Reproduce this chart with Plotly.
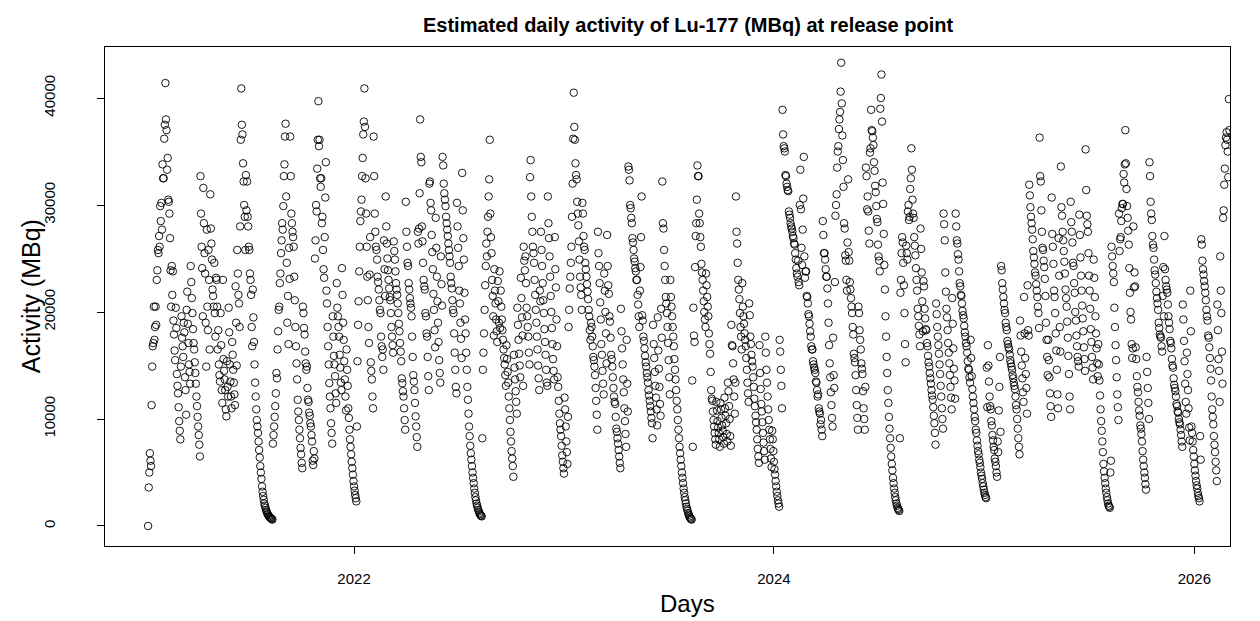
import pandas as pd
import plotly.graph_objects as go

start_date = "2021-01-08"

activity_2021 = [
    0, 3600, 5000, 6800, 6100, 5600, 11300,
    14900, 16800, 17100, 20500, 17400, 18600, 20500, 18800, 23000, 23900, 25800, 25500, 27100, 26100, 29900, 28500, 30200, 27700, 33800, 32500, 32500, 36200, 37500, 41400, 38000, 37000, 33300, 34400, 30500, 30300, 29200, 26900, 23900, 20500, 24300,
    21600, 23800, 19200, 17900, 16400, 15500, 20400, 18500, 14200, 13100, 12400, 11100, 9800, 8900, 8100, 14900, 19600, 17600, 16800, 15800, 19000, 18100, 13900, 12700, 10400, 20200, 21900, 18900, 17100, 15100, 14400, 13300, 24300, 22800, 21300, 19900, 18400, 17100, 16500, 15300, 14300, 13300, 12100, 11200, 10200, 9300, 8500, 7600, 6500,
    32700, 29200, 26100, 24100, 19600, 31600, 28300, 25500, 23600, 19000, 14900, 27700, 20500, 18300, 25800, 23000, 16500, 31000, 27800, 26400, 24900, 22100, 21500, 20500, 24600, 19900, 17700,
    23200, 23000, 20500, 16500, 18300, 15100, 14100, 13500, 19900, 16900, 12700, 11500, 23000, 15600, 14500, 13700, 12700, 10900, 10250, 15400, 13000, 12100, 20400, 18100, 15100, 13500, 12100, 11000, 17200, 16000, 14600, 13400, 12300, 11300, 22400, 19000, 15000,
    25800, 23600, 21600, 20800, 18600, 28000, 36100, 40900, 37500, 36600, 33900, 32200, 30000, 28900, 25800, 32800, 29500, 32200, 28900, 28000, 26100, 25800, 23600, 23000, 21600, 18600, 16800, 22100, 19500, 17200, 15100,
    13400, 12100, 10900, 9900, 9300, 8700, 7900, 7100, 6400, 5600, 5000, 4400, 3700, 3200, 2800, 2450, 2100, 1900, 1700, 1500, 1350, 1200, 1100, 1000, 900, 850, 800, 750, 700, 650, 600,
    7700, 8500, 9300, 10200, 11200, 12400, 14300, 13800, 16500, 18200, 20200, 20500, 22700, 23600, 25500, 26700, 28300, 27700, 29900, 32700, 33800, 36400, 37600, 30800, 24600, 19000, 21500, 17000, 26000, 23100,
    36400, 32700, 29200, 28300, 27500, 27000, 26100, 23300, 21100, 18600, 16800, 15200,
    13700, 11800, 10700, 9900, 9000, 8200, 7300, 6700, 5900, 5400, 20500, 19900, 18500, 17900, 16300, 15200, 14600, 14900, 12900, 11800, 11600, 10600, 10300, 9600, 9300, 8500, 7900, 6100, 5700, 7000, 6300,
    25000, 26700, 30000, 29400, 33400, 36100, 39700, 35500, 36100, 32500, 31700, 32500, 28300, 28900, 25800, 24000, 23200, 27000, 30700, 34000, 22000,
    20800, 18600, 16800, 15100, 13350, 12100, 11000, 9600, 8700, 7700, 19600, 17700, 15900, 15100, 14000, 12400, 11500, 22700, 20400, 19600, 18600, 17700, 16000, 14800, 13400, 12700, 24100, 21600, 19000, 17400, 15400, 13700, 12100, 10800, 16500, 14600, 13100,
    11000, 10100, 9000, 8100, 7400, 6700, 6000, 5400, 4800, 4200, 3700, 3300, 2900, 2600, 2300, 9300,
]

activity_2022 = [
    15400, 18800, 21000, 23800, 26100, 28500, 29400, 30500, 32700, 34400, 36600, 37800, 40900, 37300, 32500, 29200, 26100, 23300, 21100, 18600, 17100, 23500, 27000,
    15300, 14500, 13700, 12100, 11000, 36400, 32700, 29200, 27500, 26100, 25800, 24900, 23300, 22800, 22100, 21100, 20200, 19900, 17700, 16800, 15800, 16500, 14600, 26700, 24000, 21500,
    30800, 28000, 26400, 25000, 23900, 23000, 22200, 21400, 21100, 19900, 18600, 17700, 16900, 16200,
    26600, 25700, 24900, 23800, 22700, 22100, 21600, 20800, 19900, 18900, 18200, 17100, 16300, 15400, 13800, 13350, 12600, 12100, 11000, 9900, 9000, 30300, 27500, 26100,
    24600, 24300, 22700, 22100, 21300, 20800, 20400, 19600, 17700, 15800, 14100, 13500, 12700, 11500, 10250, 9300, 8300, 7400, 27500,
    26400, 27800, 31100, 38000, 34500, 34000, 28000, 26600, 24600, 23000, 22400, 22100, 19900, 19600, 18000, 17700, 15800, 14000, 12700, 32000, 32200, 30200, 29500, 27200, 25600, 24000, 21700, 20200, 18300, 16700, 28800, 26000, 23300, 21000, 19000, 17200, 15500, 14300, 13400, 25200, 22600, 20600,
    34500, 33700, 32000, 31100, 30500, 29900, 28900, 28300, 27700, 27100, 26400, 25800, 25200, 24600, 23300, 22700, 22200, 21100, 20200, 19900, 18000, 16200, 14600, 13000, 12400, 30200, 28000, 26000, 24300, 22000, 20800, 19000, 17500, 15700, 33000, 29500, 26900, 24900, 21800, 19300,
    18000, 16200, 14600, 13000, 11800, 10500, 9300, 8400, 7500, 6800, 6200, 5600, 5000, 4500, 4000, 3500, 3100, 2700, 2400, 2100, 1900, 1700, 1500, 1350, 1200, 1100, 1000, 950, 900, 8200,
    14600, 16200, 18000, 20200, 22500, 24300, 26400, 25200, 27500, 28900, 30800, 32400, 36100, 29200, 27000, 25500, 23000, 21500, 19600, 17800, 24000, 22000, 20800, 19300, 18200, 17200, 22900, 21000, 19000, 23800, 18500,
    22000, 20500, 19300, 18300, 17400, 16500, 15700, 15100, 14100, 13100, 16900, 15600, 14400, 13400, 12100, 11000, 9900, 8800, 7900, 7000, 6300, 5600, 4600, 16000, 14800, 13700, 12600, 11600, 10500, 20400, 18800, 17400, 16100, 15000, 13900, 23200, 21300, 19500, 17800, 13100,
    26100, 24800, 23900, 25200, 22700, 20400, 19600, 18600, 17700, 16200, 15100, 32600, 34200, 30800, 28900, 27500, 26100, 25500, 24600, 23000, 21600, 20200, 19000, 17700, 16500, 15000, 13800, 12700, 22000, 21000, 27500, 25800, 24300, 22700, 21100, 19900, 18400, 17200, 16000, 14600, 13400, 13100, 30800, 28300, 26900, 25200, 23300, 21500, 20000, 18500, 17000, 15600, 14500, 13700, 27000, 24000, 22300, 19300, 16800,
    13900, 13000, 11700, 10500, 9600, 9000, 8400, 7500, 6600, 6000, 5400, 4900, 12000, 10900, 9300, 7900, 6900, 5800, 10200,
]

activity_2023 = [
    18600, 20200, 22200, 23300, 24600, 26100, 28900, 32000, 36200, 40500, 37300, 36100, 33900, 32800, 32400, 30300, 29200, 28100, 26600, 24900, 23300, 22300, 21600, 20200,
    30200, 29200, 27100, 26100, 25800, 24600, 24000, 23300, 22600, 21900, 21200, 20200, 19600, 18300, 17400, 19000, 18600, 17700, 16800, 15800, 15500, 14900, 14100, 12900, 11700, 10400, 9000, 27500, 25500, 24300, 22700, 20900, 19300, 17000, 16000, 14500, 13300, 12300, 23600, 22000, 20000, 18000, 15200,
    27200, 24300, 22500, 21700, 19600, 19100, 17600, 16000, 15600, 14900, 13900, 12900, 12100, 11600, 11400, 10200, 9100, 8800, 8200, 7700, 7100, 6500, 5900, 5400, 20300, 18200, 16600, 15100, 13700, 12500, 11000, 9800, 8600, 7400, 17400, 13300, 10700,
    33600, 33300, 32300, 30000, 29700, 28800, 28300, 26900, 26500, 25800, 25000, 24700, 24100, 23800, 23000, 23000, 21600, 20700, 19600, 18600, 22000, 24200, 27000, 30800,
    19700, 19200, 17700, 17300, 16600, 15900, 15300, 14900, 14300, 13900, 13400, 12700, 12200, 11700, 11200, 10700, 10100, 9600, 8200, 18800, 17000, 15700, 14400, 13100, 12000, 10900, 9400, 19500, 16400, 14700, 13000, 11400, 10300, 20300, 17600,
    32200, 28300, 27800, 25800, 24300, 23000, 21400, 20800, 19900, 18600, 17100, 15500, 13900, 12300, 23000, 21400, 20500, 19600, 18600, 17700, 16800, 15600, 14600, 13700, 12700, 11700,
    10900, 9900, 9000, 8200, 7400, 6800, 6200, 5600, 5000, 4500, 4000, 3500, 3100, 2700, 2400, 2100, 1800, 1600, 1400, 1200, 1050, 900, 800, 700, 650, 600,
    13600, 7400, 20400, 17800, 17200, 24200, 27100, 28300, 30500, 33700, 32700, 32700, 29200, 28300, 27000, 26100, 24500, 23700, 23000, 22000, 21000, 20000, 19300, 18600, 23600, 22500, 21400, 20500, 19600, 18000, 17000, 16100, 14400, 12700, 11900,
    11700, 10700, 9900, 9300, 8700, 8100, 7600, 11600, 10800, 9800, 9200, 8700, 8100, 7400, 11500, 10900, 10100, 9400, 8900, 8300, 7700, 12000, 11000, 10300, 9600, 8600, 7900, 13400, 12600, 11200, 10000, 8400, 7500, 18800, 16900, 16800, 15200, 13700, 12100, 10500,
    13400, 30800, 27500, 26400, 24600, 23000, 22100, 21200, 19900, 18600, 17700, 16500,
    22700, 20500, 19600, 18900, 18000, 17400, 16800, 15700, 14600, 13400, 12400, 11600, 20800, 19700, 17700, 17000, 16000, 15400, 14900, 13900, 13000, 11900, 11200, 10300, 9700, 9000, 8100, 7200, 6500, 5900, 16900, 14300, 12800, 11400, 10700, 9700, 8700, 7800, 7000, 6200,
    17700, 16200, 14600, 13400, 12100, 10900, 9900, 9000, 8100, 7200, 6300, 5500, 8900, 8100, 7000, 6000, 5300, 4800, 4200, 3700, 3200, 2800, 2400, 2100, 1800, 17400, 16300, 14600, 13100, 11000,
]

activity_2024 = [
    38900, 36600, 35500, 35300, 35000, 32800, 32700, 32000, 31700, 31400, 31300, 29400, 29100, 28800, 28300, 28000, 27800, 27500, 27100, 26900, 26400, 26300, 25500, 24900, 24100, 23600, 23300, 24800, 22800, 22500, 30000, 33300, 29600, 26000, 24400, 27700, 30600, 34500, 25200, 23200,
    23800, 23800, 21500, 21400, 20800, 19800, 19600, 18900, 18200, 17700, 16800, 16500, 16500, 15400, 15100, 14800, 14600, 14300, 13500, 13400, 12700, 12100, 12300, 11000, 10700, 10500, 9500, 9900, 9000, 8400, 28500, 27200, 25500, 25500, 24900, 24000, 23300, 23300, 22200, 20800, 19000, 16900, 15200, 13900, 12500, 11300, 10100, 9300, 17600, 14100, 12900, 22800,
    29000, 30000, 31000, 33500, 35000, 35500, 37100, 38000, 38700, 40600, 43300, 39500, 36500, 34200, 31700, 28300, 27800, 25300, 24800, 23000, 22000, 26500, 32400,
    25600, 24800, 22800, 22100, 21300, 20500, 19900, 18600, 17900, 16100, 15700, 15300, 14100, 12700, 11300, 10100, 9000, 20500, 19900, 18300, 17400, 16500, 15200, 14700, 14200, 12600, 11000, 10000, 9000, 13000,
    33500, 32700, 29600, 30800, 29400, 27600, 26400, 34900, 35300, 38900, 37000, 36900, 36300, 35600, 34000, 33200, 31800, 31200, 29900, 28700, 28400, 26300, 25200, 24800, 23800, 39000, 40000, 42200, 37800, 32100, 30100, 27300, 24400,
    22100, 19600, 17700, 15800, 14300, 12700, 11500, 10200, 9100, 8200,
    7300, 6500, 5800, 5200, 4500, 4000, 3500, 3100, 2700, 2400, 2100, 1900, 1700, 1600, 1500, 1400, 8200,
    21800, 23000, 25500, 27000, 26500, 24600, 22500, 19900, 17000, 15300, 26200, 25500, 24900, 29400, 30000, 28600, 28900, 31500, 32500, 35300, 33300, 30500, 29200, 28800, 27000, 26200, 25300, 24100, 23000, 22000, 20300, 19600, 18700, 17900, 16800, 27800, 25900, 23700, 21000, 18200,
    22900, 22400, 20300, 19400, 18400, 18300, 17100, 16800, 15900, 15300, 14900, 14300, 13800, 13300, 12700, 12200, 11800, 11100, 10300, 9600, 8700, 7600, 20800, 19800, 18600, 17700, 16900, 16100, 15100, 14200, 13100, 12100, 11000, 10000, 9100, 29200, 28200, 26700, 23700, 21900, 20300, 19500, 18300, 17100, 16200, 15200, 14100, 13000, 12000, 10900, 21300, 18900, 16600, 14700, 13600, 11900,
    29200, 28000, 26700, 26400, 25400, 24900, 23800, 22700, 22400, 21600, 21500, 20800, 20100, 19700, 19400, 18700, 18100, 17700, 17100, 16800, 16200, 15400, 14700, 14600, 13900, 13400,
    17400, 15700, 14000, 12800, 12100, 11500, 10900, 10200, 9800, 9000, 8700, 8000, 7500, 7000, 6700, 6200, 5900, 5500, 5000, 4700, 4400, 4000, 3700, 3400, 3100, 2900, 2700, 2600, 14800, 11100,
]

activity_2025 = [
    16900, 15000, 13500, 12100, 11200, 10900, 9800, 9400, 8500, 8000, 7400, 7100, 6300, 6000, 5600, 5000, 4600, 7900, 6900, 10800, 13000, 15800, 8800,
    24300, 23900, 22700, 22100, 21400, 20800, 20200, 19900, 19000, 18600, 18300, 17300, 17000, 16700, 16500, 16000, 15500, 15200, 14900, 14600, 14100, 13800, 13400, 13100, 12800, 12100, 11300, 10900, 10000, 9100, 8200, 7400, 6700, 19200, 17800, 16300, 15000, 13800, 12500, 11600, 21400, 18000, 15700, 14200, 12900, 10500, 22500,
    18300, 17800, 31900, 30900, 29800, 28900, 28300, 27700, 26800, 25700, 25100, 24500, 23700, 23400, 22600, 22000, 21400, 20500, 19900, 18500, 36300, 32700, 32200, 29500, 27500, 26000, 25800, 24800, 24200, 23100, 21500, 19000, 17400, 15800, 14100,
    17400, 15500, 13900, 12400, 11200, 10200, 30700, 27300, 26100, 24500, 22000, 21400, 19900, 18000, 16400, 14600, 12300, 11000, 26900, 23400, 18600, 16300, 33600, 29800, 29000, 27500, 26700, 25700, 24700, 23600, 22100, 21300, 20500, 19100, 17600, 15900, 14200, 12100, 10900, 30300, 28400, 27500, 26500, 24600, 24300, 22700, 21800, 20000, 19200, 17800, 16800, 15800, 15400, 14900, 29100, 27200, 25100, 23400, 22000, 20600, 19400, 18200, 16700, 15600, 14500, 35200, 31400, 29000, 28200, 27500, 25500, 23400, 22000, 20300, 18400, 17200, 15800, 14800, 13700, 24900, 23200, 21400, 19600, 18000, 16600, 15200, 14000,
    17000, 15100, 13600, 12200, 10900, 9800, 8900, 7900, 6900, 5800, 5100, 4500, 4000, 3500, 3100, 2700, 2400, 2100, 1900, 1800, 1700, 5000, 6100,
    26100, 25200, 24300, 23600, 22800, 20400, 18600, 16900, 15500, 13900, 12300, 11100, 9900, 29200, 25700, 26800, 27000, 28500, 29700, 30100, 30100, 32900, 32100, 33800, 37000, 33900, 31500, 29900, 28800, 27600, 26300, 24100, 21800, 20000, 19300, 17000, 15700, 16600, 28000, 22300,
    23700, 22400, 16700, 15600, 14000, 13000, 12500, 11600, 10800, 10300, 9400, 9100, 8600, 7900, 7000, 6200, 5600, 5000, 4500, 3900, 3400,
    15800, 14400, 12900, 11500, 10000, 34000, 32700, 30300, 29200, 28600, 27100, 26300, 26000, 24900, 23900, 23500, 22700, 21900, 21300, 20800, 20200, 19000, 18500, 17900, 17700, 17600, 16800, 16300, 21500, 24200, 19600,
    27100, 24000, 23000, 22400, 22100, 21800, 20700, 19600, 19000, 18400, 17300, 17100, 16600, 15600, 15000, 14800, 13800, 13200, 12900, 12600, 12100, 11400, 11200, 10700, 10600, 10000, 9700, 9500, 9000, 8500, 7900, 7400, 20700, 19300, 17300, 15400, 13300, 11600, 10500, 16200, 14200, 12700, 11000, 9200, 8000, 22000, 18200,
]

activity_2026 = [
    9300, 8700, 7900, 7100, 6500, 5800, 5200, 4700, 4200, 3800, 3500, 3100, 2800, 2600, 2300, 8400, 6200,
    26800, 26300, 24800, 24000, 23500, 22900, 22400, 21800, 21100, 20200, 19600, 19200, 17800, 17600, 16700, 15700, 14700, 13600, 12100, 10900, 10200, 9500, 8400, 7600, 6900, 6000, 5200, 4200, 20700, 18300, 15600, 14500, 11600, 25200, 22000, 19900, 16300, 13300,
    28800, 29500, 31900, 33400, 35600, 36300, 36800, 36100, 35000, 32600, 39900, 37000,
]

activity = activity_2021 + activity_2022 + activity_2023 + activity_2024 + activity_2025 + activity_2026
dates = pd.date_range(start=start_date, periods=len(activity), freq="D")

x_ticks = ["2022-01-01", "2024-01-01", "2026-01-01"]
x_tick_labels = ["2022", "2024", "2026"]
y_ticks = [0, 10000, 20000, 30000, 40000]
y_tick_labels = ["0", "10000", "20000", "30000", "40000"]

FONT = "Arial, 'Liberation Sans', sans-serif"

fig = go.Figure(
    go.Scatter(
        x=dates, y=activity, mode="markers",
        marker=dict(symbol="circle-open", size=7.5, color="black", line=dict(width=0.9, color="black")),
        hoverinfo="x+y",
    )
)

fig.update_layout(
    width=1260, height=621,
    margin=dict(l=105, r=30, t=47, b=75),
    plot_bgcolor="white", paper_bgcolor="white",
    showlegend=False,
    font=dict(family=FONT, color="black", size=15),
    annotations=[
        dict(text="<b>Estimated daily activity of Lu-177 (MBq) at release point</b>",
             xref="paper", yref="paper", x=0.518, y=1.044, xanchor="center", yanchor="middle",
             showarrow=False, font=dict(size=20, family=FONT, color="black")),
        dict(text="Activity (MBq)", xref="paper", yref="paper", x=-0.066, y=0.5,
             xanchor="center", yanchor="middle", textangle=-90, showarrow=False,
             font=dict(size=25, family=FONT, color="black")),
        dict(text="Days", xref="paper", yref="paper", x=0.518, y=-0.116,
             xanchor="center", yanchor="middle", showarrow=False,
             font=dict(size=24, family=FONT, color="black")),
    ],
)

fig.update_xaxes(
    range=["2020-10-25", "2026-03-04"],
    tickvals=x_ticks, ticktext=x_tick_labels,
    ticks="outside", ticklen=7, tickwidth=1, tickcolor="black",
    showline=True, linecolor="black", linewidth=1, mirror=True,
    showgrid=False, zeroline=False,
    tickfont=dict(size=15, family=FONT, color="black"),
    ticklabelstandoff=12,
)
fig.update_yaxes(
    range=[-1870, 44770],
    tickvals=y_ticks, ticktext=y_tick_labels, tickangle=-90,
    ticks="outside", ticklen=7, tickwidth=1, tickcolor="black",
    showline=True, linecolor="black", linewidth=1, mirror=True,
    showgrid=False, zeroline=False,
    tickfont=dict(size=15, family=FONT, color="black"),
    ticklabelstandoff=36,
)

fig.write_html("out.html")
